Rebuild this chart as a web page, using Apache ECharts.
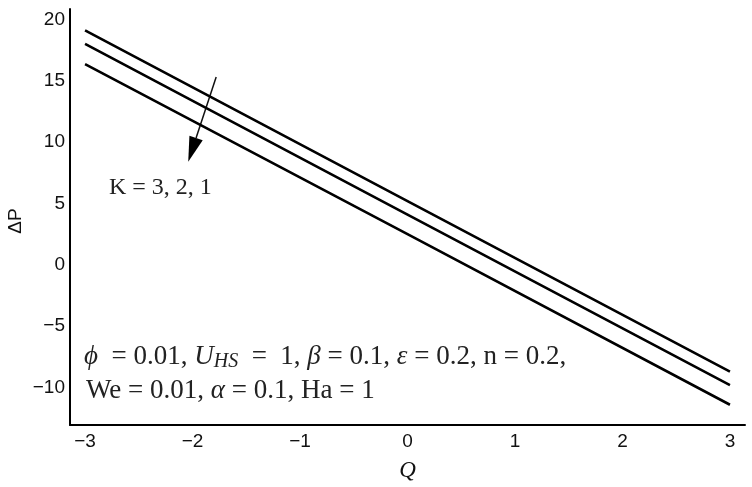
<!DOCTYPE html>
<html>
<head>
<meta charset="utf-8">
<script src="https://cdn.jsdelivr.net/npm/echarts@6/dist/echarts.min.js"></script>
<style>html,body{margin:0;padding:0;background:#fff;}#c{width:752px;height:487px;}</style>
</head>
<body>
<div id="c"></div>
<script>
// Data
var qValues = [-3, 0, 3];
var dpK3 = [19.1, 5.2, -8.7];
var dpK2 = [18.0, 4.1, -9.8];
var dpK1 = [16.35, 2.5, -11.4];
var xTicks = [-3, -2, -1, 0, 1, 2, 3];
var yTicks = [-10, -5, 0, 5, 10, 15, 20];
var arrowFrom = [-1.78, 15.3];
var arrowTo = [-2.04, 8.4];

function pairs(xs, ys) { return xs.map(function (x, i) { return [x, ys[i]]; }); }
function fmt(v) { return String(v).replace('-', '\u2212'); }

var serif = '"Liberation Serif", "Times New Roman", serif';
var sans = '"Liberation Sans", Arial, sans-serif';
var lineStyle = { color: '#000', width: 2.6 };

var chart = echarts.init(document.getElementById('c'), null, { renderer: 'canvas' });
var option = {
  animation: false,
  backgroundColor: '#fff',
  grid: { left: 70, right: 7, top: 9, bottom: 61, containLabel: false },
  xAxis: {
    type: 'value', min: -3.14, max: 3.14,
    name: 'Q', nameLocation: 'middle', nameGap: 34,
    nameTextStyle: { fontFamily: serif, fontStyle: 'italic', fontSize: 23, color: '#111' },
    axisLine: { show: true, onZero: false, lineStyle: { color: '#000', width: 2 } },
    axisTick: { show: false },
    splitLine: { show: false },
    axisLabel: { customValues: xTicks, formatter: fmt, fontFamily: sans, fontSize: 19, color: '#111', margin: 7 }
  },
  yAxis: {
    type: 'value', min: -13.05, max: 20.85,
    axisLine: { show: true, onZero: false, lineStyle: { color: '#000', width: 2 } },
    axisTick: { show: false },
    splitLine: { show: false },
    axisLabel: { customValues: yTicks, formatter: fmt, fontFamily: sans, fontSize: 19, color: '#111', margin: 5 }
  },
  series: [
    { type: 'line', data: pairs(qValues, dpK3), symbol: 'none', lineStyle: lineStyle },
    { type: 'line', data: pairs(qValues, dpK2), symbol: 'none', lineStyle: lineStyle },
    { type: 'line', data: pairs(qValues, dpK1), symbol: 'none', lineStyle: lineStyle }
  ]
};
chart.setOption(option);

var p0 = chart.convertToPixel({ gridIndex: 0 }, arrowFrom);
var p1 = chart.convertToPixel({ gridIndex: 0 }, arrowTo);
var dx = p1[0] - p0[0], dy = p1[1] - p0[1];
var len = Math.sqrt(dx * dx + dy * dy);
var ux = dx / len, uy = dy / len;
var headLen = 25, headW = 7;
var bx = p1[0] - ux * headLen, by = p1[1] - uy * headLen;
var nx = -uy, ny = ux;

chart.setOption({
  graphic: [
    { type: 'line', shape: { x1: p0[0], y1: p0[1], x2: bx, y2: by }, style: { stroke: '#111', lineWidth: 1.5 } },
    { type: 'polygon', shape: { points: [[p1[0], p1[1]], [bx + nx * headW, by + ny * headW], [bx - nx * headW, by - ny * headW]] }, style: { fill: '#000' } },
    { type: 'text', x: 109, y: 188, style: { text: 'K = 3, 2, 1', font: '24px ' + serif, fill: '#222', verticalAlign: 'middle', align: 'left' } },
    { type: 'text', x: 16, y: 221, rotation: Math.PI / 2,
      style: { text: '\u0394P', font: '19px ' + sans, fill: '#111', align: 'center', verticalAlign: 'middle' } },
    { type: 'text', x: 84, y: 357,
      style: {
        text: '{i|\u03D5}  = 0.01, {i|U}{sub|HS}  =  1, {i|\u03B2} = 0.1, {i|\u03B5} = 0.2, n = 0.2,',
        font: '27px ' + serif, fill: '#222', verticalAlign: 'middle', align: 'left',
        rich: {
          i: { fontFamily: serif, fontStyle: 'italic', fontSize: 27, fill: '#222' },
          sub: { fontFamily: serif, fontStyle: 'italic', fontSize: 20, fill: '#222', padding: [10, 0, 0, 0] }
        }
      } },
    { type: 'text', x: 86, y: 391,
      style: {
        text: 'We = 0.01, {i|\u03B1} = 0.1, Ha = 1',
        font: '27px ' + serif, fill: '#222', verticalAlign: 'middle', align: 'left',
        rich: { i: { fontFamily: serif, fontStyle: 'italic', fontSize: 27, fill: '#222' } }
      } }
  ]
});
</script>
</body>
</html>
